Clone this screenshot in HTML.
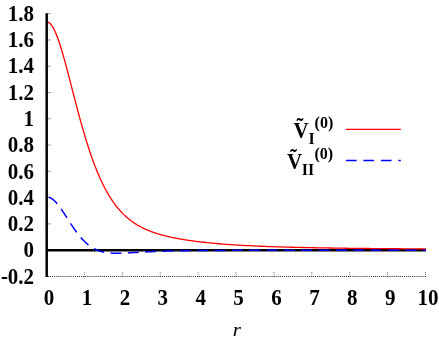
<!DOCTYPE html>
<html><head><meta charset="utf-8"><title>plot</title>
<style>
html,body{margin:0;padding:0;background:#fff;}
body{width:439px;height:342px;overflow:hidden;}
svg{display:block;will-change:transform;}
text{font-family:"Liberation Serif",serif;}
.tl text{font-size:21px;font-weight:bold;fill:#000;}
</style></head><body>
<svg width="439" height="342" viewBox="0 0 439 342">
<rect width="439" height="342" fill="#fff"/>
<g stroke="#8a8a8a" stroke-width="0.9" fill="none"><line x1="46.7" x2="50.9" y1="250.20" y2="250.20"/><line x1="46.7" x2="50.9" y1="223.92" y2="223.92"/><line x1="46.7" x2="50.9" y1="197.64" y2="197.64"/><line x1="46.7" x2="50.9" y1="171.36" y2="171.36"/><line x1="46.7" x2="50.9" y1="145.08" y2="145.08"/><line x1="46.7" x2="50.9" y1="118.80" y2="118.80"/><line x1="46.7" x2="50.9" y1="92.52" y2="92.52"/><line x1="46.7" x2="50.9" y1="66.24" y2="66.24"/><line x1="46.7" x2="50.9" y1="39.96" y2="39.96"/><line x1="46.7" x2="50.9" y1="13.68" y2="13.68"/></g>
<g stroke="#6a6a6a" stroke-width="0.9" fill="none" stroke-dasharray="1 1"><line x1="84.40" x2="84.40" y1="277" y2="272"/><line x1="122.30" x2="122.30" y1="277" y2="272"/><line x1="160.20" x2="160.20" y1="277" y2="272"/><line x1="198.10" x2="198.10" y1="277" y2="272"/><line x1="236.00" x2="236.00" y1="277" y2="272"/><line x1="273.90" x2="273.90" y1="277" y2="272"/><line x1="311.80" x2="311.80" y1="277" y2="272"/><line x1="349.70" x2="349.70" y1="277" y2="272"/><line x1="387.60" x2="387.60" y1="277" y2="272"/><line x1="425.50" x2="425.50" y1="277" y2="272"/></g>
<line x1="48" x2="425.9" y1="276.5" y2="276.5" stroke="#000" stroke-width="0.9" stroke-dasharray="0.95 1.12"/>
<line x1="46.7" x2="425.9" y1="250.20" y2="250.20" stroke="#000" stroke-width="2.4"/>
<path d="M46.70,21.90 L47.21,21.94 L47.73,22.05 L48.24,22.24 L48.75,22.50 L49.26,22.84 L49.78,23.25 L50.29,23.73 L50.80,24.29 L51.31,24.92 L51.83,25.61 L52.34,26.38 L52.85,27.21 L53.37,28.10 L53.88,29.06 L54.39,30.08 L54.90,31.16 L55.42,32.30 L55.93,33.50 L56.44,34.75 L56.95,36.05 L57.47,37.41 L57.98,38.81 L58.49,40.26 L59.01,41.75 L59.52,43.29 L60.03,44.86 L60.54,46.48 L61.06,48.13 L61.57,49.81 L62.08,51.53 L62.59,53.27 L63.11,55.05 L63.62,56.85 L64.13,58.67 L64.64,60.52 L65.16,62.39 L65.67,64.28 L66.18,66.18 L66.70,68.10 L67.21,70.03 L67.72,71.98 L68.23,73.94 L68.75,75.90 L69.26,77.88 L69.77,79.85 L70.28,81.84 L70.80,83.83 L71.31,85.82 L71.82,87.81 L72.34,89.80 L72.85,91.79 L73.36,93.78 L73.87,95.76 L74.39,97.74 L74.90,99.71 L75.41,101.68 L75.92,103.64 L76.44,105.59 L76.95,107.53 L77.46,109.46 L77.98,111.38 L78.49,113.29 L79.00,115.19 L79.51,117.08 L80.03,118.95 L80.54,120.81 L81.05,122.65 L81.56,124.48 L82.08,126.29 L82.59,128.09 L83.10,129.87 L83.62,131.64 L84.13,133.38 L84.64,135.11 L85.15,136.83 L85.67,138.52 L86.18,140.20 L86.69,141.85 L87.20,143.49 L87.72,145.11 L88.23,146.71 L88.74,148.30 L89.25,149.86 L89.77,151.40 L90.28,152.92 L90.79,154.43 L91.31,155.91 L91.82,157.38 L92.33,158.82 L92.84,160.25 L93.36,161.65 L93.87,163.04 L94.38,164.40 L94.89,165.75 L95.41,167.07 L95.92,168.38 L96.43,169.67 L96.95,170.94 L97.46,172.18 L97.97,173.41 L98.48,174.62 L99.00,175.82 L99.51,176.99 L100.02,178.14 L100.53,179.28 L101.05,180.40 L101.56,181.50 L102.07,182.58 L102.59,183.64 L103.10,184.69 L103.61,185.71 L104.12,186.73 L104.64,187.72 L105.15,188.70 L105.66,189.66 L106.17,190.60 L106.69,191.53 L107.20,192.44 L107.71,193.34 L108.23,194.22 L108.74,195.08 L109.25,195.93 L109.76,196.77 L110.28,197.59 L110.79,198.39 L111.30,199.18 L111.81,199.96 L112.33,200.72 L112.84,201.47 L113.35,202.20 L113.86,202.93 L114.38,203.63 L114.89,204.33 L115.40,205.01 L115.92,205.68 L116.43,206.34 L116.94,206.99 L117.45,207.62 L117.97,208.24 L118.48,208.85 L118.99,209.45 L119.50,210.04 L120.02,210.62 L120.53,211.19 L121.04,211.74 L121.56,212.29 L122.07,212.83 L122.58,213.35 L123.09,213.87 L123.61,214.37 L124.12,214.87 L124.63,215.36 L125.14,215.84 L125.66,216.31 L126.17,216.77 L126.68,217.22 L127.20,217.67 L127.71,218.10 L128.22,218.53 L128.73,218.95 L129.25,219.36 L129.76,219.77 L130.27,220.17 L130.78,220.56 L131.30,220.94 L131.81,221.31 L132.32,221.68 L132.84,222.05 L133.35,222.40 L133.86,222.75 L134.37,223.09 L134.89,223.43 L135.40,223.76 L135.91,224.08 L136.42,224.40 L136.94,224.72 L137.45,225.02 L137.96,225.33 L138.47,225.62 L138.99,225.91 L139.50,226.20 L140.01,226.48 L140.53,226.76 L141.04,227.03 L141.55,227.29 L142.06,227.56 L142.58,227.81 L143.09,228.07 L143.60,228.32 L144.11,228.56 L144.63,228.80 L145.14,229.04 L145.65,229.27 L146.17,229.50 L146.68,229.72 L147.19,229.94 L147.70,230.16 L148.22,230.37 L148.73,230.58 L149.24,230.79 L149.75,230.99 L150.27,231.19 L150.78,231.39 L151.29,231.58 L151.81,231.77 L152.32,231.96 L152.83,232.15 L153.34,232.33 L153.86,232.51 L154.37,232.68 L154.88,232.86 L155.39,233.03 L155.91,233.20 L156.42,233.36 L156.93,233.52 L157.45,233.69 L157.96,233.84 L158.47,234.00 L158.98,234.15 L159.50,234.31 L160.01,234.45 L160.52,234.60 L161.03,234.75 L161.55,234.89 L162.06,235.03 L162.57,235.17 L163.08,235.31 L163.60,235.44 L164.11,235.58 L164.62,235.71 L165.14,235.84 L165.65,235.96 L166.16,236.09 L166.67,236.22 L167.19,236.34 L167.70,236.46 L168.21,236.58 L168.72,236.70 L169.24,236.81 L169.75,236.93 L170.26,237.04 L170.78,237.16 L171.29,237.27 L171.80,237.38 L172.31,237.48 L172.83,237.59 L173.34,237.70 L173.85,237.80 L174.36,237.90 L174.88,238.00 L175.39,238.11 L175.90,238.20 L176.42,238.30 L176.93,238.40 L177.44,238.50 L177.95,238.59 L178.47,238.68 L178.98,238.78 L179.49,238.87 L180.00,238.96 L180.52,239.05 L181.03,239.14 L181.54,239.22 L182.06,239.31 L182.57,239.40 L183.08,239.48 L183.59,239.56 L184.11,239.65 L184.62,239.73 L185.13,239.81 L185.64,239.89 L186.16,239.97 L186.67,240.05 L187.18,240.13 L187.69,240.20 L188.21,240.28 L188.72,240.36 L189.23,240.43 L189.75,240.50 L190.26,240.58 L190.77,240.65 L191.28,240.72 L191.80,240.79 L192.31,240.86 L192.82,240.93 L193.33,241.00 L193.85,241.07 L194.36,241.13 L194.87,241.20 L195.39,241.27 L195.90,241.33 L196.41,241.40 L196.92,241.46 L197.44,241.53 L197.95,241.59 L198.46,241.65 L198.97,241.71 L199.49,241.77 L200.00,241.83 L203.83,242.27 L207.66,242.67 L211.49,243.05 L215.32,243.41 L219.14,243.74 L222.97,244.04 L226.80,244.33 L230.63,244.60 L234.46,244.86 L238.29,245.10 L242.12,245.32 L245.95,245.53 L249.77,245.72 L253.60,245.91 L257.43,246.08 L261.26,246.24 L265.09,246.40 L268.92,246.54 L272.75,246.68 L276.58,246.80 L280.41,246.92 L284.23,247.04 L288.06,247.15 L291.89,247.25 L295.72,247.34 L299.55,247.44 L303.38,247.52 L307.21,247.60 L311.04,247.68 L314.86,247.76 L318.69,247.83 L322.52,247.89 L326.35,247.96 L330.18,248.02 L334.01,248.08 L337.84,248.13 L341.67,248.19 L345.49,248.24 L349.32,248.29 L353.15,248.33 L356.98,248.38 L360.81,248.42 L364.64,248.46 L368.47,248.50 L372.30,248.54 L376.13,248.58 L379.95,248.61 L383.78,248.65 L387.61,248.68 L391.44,248.71 L395.27,248.74 L399.10,248.77 L402.93,248.80 L406.76,248.83 L410.58,248.86 L414.41,248.88 L418.24,248.91 L422.07,248.93 L425.90,248.95" fill="none" stroke="#f00" stroke-width="1.3"/>
<path d="M46.70,196.94 L47.21,196.96 L47.73,197.01 L48.24,197.10 L48.75,197.22 L49.26,197.38 L49.78,197.57 L50.29,197.79 L50.80,198.05 L51.31,198.34 L51.83,198.66 L52.34,199.01 L52.85,199.40 L53.37,199.81 L53.88,200.25 L54.39,200.72 L54.90,201.21 L55.42,201.73 L55.93,202.28 L56.44,202.85 L56.95,203.44 L57.47,204.05 L57.98,204.68 L58.49,205.34 L59.01,206.00 L59.52,206.69 L60.03,207.39 L60.54,208.11 L61.06,208.84 L61.57,209.58 L62.08,210.33 L62.59,211.09 L63.11,211.86 L63.62,212.64 L64.13,213.42 L64.64,214.21 L65.16,215.01 L65.67,215.80 L66.18,216.61 L66.70,217.41 L67.21,218.21 L67.72,219.01 L68.23,219.82 L68.75,220.62 L69.26,221.42 L69.77,222.21 L70.28,223.00 L70.80,223.79 L71.31,224.57 L71.82,225.35 L72.34,226.12 L72.85,226.88 L73.36,227.64 L73.87,228.38 L74.39,229.12 L74.90,229.85 L75.41,230.57 L75.92,231.28 L76.44,231.98 L76.95,232.67 L77.46,233.35 L77.98,234.01 L78.49,234.67 L79.00,235.31 L79.51,235.95 L80.03,236.57 L80.54,237.17 L81.05,237.77 L81.56,238.35 L82.08,238.92 L82.59,239.48 L83.10,240.02 L83.62,240.55 L84.13,241.07 L84.64,241.58 L85.15,242.07 L85.67,242.55 L86.18,243.01 L86.69,243.47 L87.20,243.91 L87.72,244.33 L88.23,244.75 L88.74,245.15 L89.25,245.54 L89.77,245.92 L90.28,246.28 L90.79,246.63 L91.31,246.97 L91.82,247.30 L92.33,247.62 L92.84,247.92 L93.36,248.22 L93.87,248.50 L94.38,248.77 L94.89,249.04 L95.41,249.29 L95.92,249.53 L96.43,249.76 L96.95,249.98 L97.46,250.19 L97.97,250.39 L98.48,250.58 L99.00,250.77 L99.51,250.94 L100.02,251.11 L100.53,251.27 L101.05,251.42 L101.56,251.56 L102.07,251.69 L102.59,251.82 L103.10,251.94 L103.61,252.06 L104.12,252.16 L104.64,252.26 L105.15,252.36 L105.66,252.44 L106.17,252.53 L106.69,252.60 L107.20,252.67 L107.71,252.74 L108.23,252.80 L108.74,252.86 L109.25,252.91 L109.76,252.96 L110.28,253.00 L110.79,253.04 L111.30,253.07 L111.81,253.10 L112.33,253.13 L112.84,253.15 L113.35,253.17 L113.86,253.19 L114.38,253.21 L114.89,253.22 L115.40,253.23 L115.92,253.23 L116.43,253.24 L116.94,253.24 L117.45,253.24 L117.97,253.24 L118.48,253.23 L118.99,253.23 L119.50,253.22 L120.02,253.21 L120.53,253.20 L121.04,253.18 L121.56,253.17 L122.07,253.15 L122.58,253.14 L123.09,253.12 L123.61,253.10 L124.12,253.08 L124.63,253.06 L125.14,253.04 L125.66,253.02 L126.17,252.99 L126.68,252.97 L127.20,252.94 L127.71,252.92 L128.22,252.89 L128.73,252.87 L129.25,252.84 L129.76,252.81 L130.27,252.79 L130.78,252.76 L131.30,252.73 L131.81,252.70 L132.32,252.67 L132.84,252.65 L133.35,252.62 L133.86,252.59 L134.37,252.56 L134.89,252.53 L135.40,252.50 L135.91,252.47 L136.42,252.44 L136.94,252.41 L137.45,252.39 L137.96,252.36 L138.47,252.33 L138.99,252.30 L139.50,252.27 L140.01,252.24 L140.53,252.21 L141.04,252.19 L141.55,252.16 L142.06,252.13 L142.58,252.10 L143.09,252.07 L143.60,252.05 L144.11,252.02 L144.63,251.99 L145.14,251.97 L145.65,251.94 L146.17,251.91 L146.68,251.89 L147.19,251.86 L147.70,251.84 L148.22,251.81 L148.73,251.79 L149.24,251.76 L149.75,251.74 L150.27,251.71 L150.78,251.69 L151.29,251.67 L151.81,251.64 L152.32,251.62 L152.83,251.60 L153.34,251.57 L153.86,251.55 L154.37,251.53 L154.88,251.51 L155.39,251.49 L155.91,251.47 L156.42,251.45 L156.93,251.42 L157.45,251.40 L157.96,251.38 L158.47,251.36 L158.98,251.34 L159.50,251.33 L160.01,251.31 L160.52,251.29 L161.03,251.27 L161.55,251.25 L162.06,251.23 L162.57,251.22 L163.08,251.20 L163.60,251.18 L164.11,251.16 L164.62,251.15 L165.14,251.13 L165.65,251.11 L166.16,251.10 L166.67,251.08 L167.19,251.07 L167.70,251.05 L168.21,251.04 L168.72,251.02 L169.24,251.01 L169.75,250.99 L170.26,250.98 L170.78,250.97 L171.29,250.95 L171.80,250.94 L172.31,250.93 L172.83,250.91 L173.34,250.90 L173.85,250.89 L174.36,250.88 L174.88,250.87 L175.39,250.85 L175.90,250.84 L176.42,250.83 L176.93,250.82 L177.44,250.81 L177.95,250.80 L178.47,250.79 L178.98,250.78 L179.49,250.77 L180.00,250.76 L180.52,250.75 L181.03,250.74 L181.54,250.73 L182.06,250.72 L182.57,250.71 L183.08,250.70 L183.59,250.69 L184.11,250.69 L184.62,250.68 L185.13,250.67 L185.64,250.66 L186.16,250.65 L186.67,250.65 L187.18,250.64 L187.69,250.63 L188.21,250.62 L188.72,250.62 L189.23,250.61 L189.75,250.60 L190.26,250.60 L190.77,250.59 L191.28,250.58 L191.80,250.58 L192.31,250.57 L192.82,250.57 L193.33,250.56 L193.85,250.55 L194.36,250.55 L194.87,250.54 L195.39,250.54 L195.90,250.53 L196.41,250.53 L196.92,250.52 L197.44,250.52 L197.95,250.51 L198.46,250.51 L198.97,250.50 L199.49,250.50 L200.00,250.50 L203.83,250.47 L207.66,250.44 L211.49,250.42 L215.32,250.41 L219.14,250.39 L222.97,250.38 L226.80,250.38 L230.63,250.37 L234.46,250.36 L238.29,250.36 L242.12,250.36 L245.95,250.35 L249.77,250.35 L253.60,250.35 L257.43,250.35 L261.26,250.35 L265.09,250.35 L268.92,250.35 L272.75,250.35 L276.58,250.35 L280.41,250.35 L284.23,250.35 L288.06,250.35 L291.89,250.35 L295.72,250.35 L299.55,250.35 L303.38,250.35 L307.21,250.35 L311.04,250.35 L314.86,250.35 L318.69,250.35 L322.52,250.35 L326.35,250.35 L330.18,250.35 L334.01,250.35 L337.84,250.35 L341.67,250.35 L345.49,250.35 L349.32,250.35 L353.15,250.35 L356.98,250.35 L360.81,250.35 L364.64,250.35 L368.47,250.36 L372.30,250.36 L376.13,250.36 L379.95,250.36 L383.78,250.36 L387.61,250.36 L391.44,250.36 L395.27,250.36 L399.10,250.36 L402.93,250.36 L406.76,250.36 L410.58,250.36 L414.41,250.36 L418.24,250.36 L422.07,250.36 L425.90,250.36" fill="none" stroke="#00f" stroke-width="1.5" stroke-dasharray="10.85 6.5" stroke-dashoffset="-2"/>
<line x1="46.7" x2="46.7" y1="13.2" y2="277" stroke="#000" stroke-width="2.5"/>
<g class="tl"><text transform="translate(34.1,20.88) scale(1,1.05)" text-anchor="end">1.8</text><text transform="translate(34.1,47.16) scale(1,1.05)" text-anchor="end">1.6</text><text transform="translate(34.1,73.44) scale(1,1.05)" text-anchor="end">1.4</text><text transform="translate(34.1,99.72) scale(1,1.05)" text-anchor="end">1.2</text><text transform="translate(34.1,126.00) scale(1,1.05)" text-anchor="end">1</text><text transform="translate(34.1,152.28) scale(1,1.05)" text-anchor="end">0.8</text><text transform="translate(34.1,178.56) scale(1,1.05)" text-anchor="end">0.6</text><text transform="translate(34.1,204.84) scale(1,1.05)" text-anchor="end">0.4</text><text transform="translate(34.1,231.12) scale(1,1.05)" text-anchor="end">0.2</text><text transform="translate(34.1,257.40) scale(1,1.05)" text-anchor="end">0</text><text transform="translate(34.1,283.68) scale(1,1.05)" text-anchor="end">-0.2</text><text transform="translate(49.10,304.5) scale(1,1.05)" text-anchor="middle">0</text><text transform="translate(87.00,304.5) scale(1,1.05)" text-anchor="middle">1</text><text transform="translate(124.90,304.5) scale(1,1.05)" text-anchor="middle">2</text><text transform="translate(162.80,304.5) scale(1,1.05)" text-anchor="middle">3</text><text transform="translate(200.70,304.5) scale(1,1.05)" text-anchor="middle">4</text><text transform="translate(238.60,304.5) scale(1,1.05)" text-anchor="middle">5</text><text transform="translate(276.50,304.5) scale(1,1.05)" text-anchor="middle">6</text><text transform="translate(314.40,304.5) scale(1,1.05)" text-anchor="middle">7</text><text transform="translate(352.30,304.5) scale(1,1.05)" text-anchor="middle">8</text><text transform="translate(390.20,304.5) scale(1,1.05)" text-anchor="middle">9</text><text transform="translate(428.10,304.5) scale(1,1.05)" text-anchor="middle">10</text></g>
<text transform="translate(236.8,335.8) scale(1.14,1)" font-size="18.5" font-style="italic" text-anchor="middle">r</text>
<!-- legend -->
<line x1="345.9" x2="400.8" y1="129.4" y2="129.4" stroke="#f00" stroke-width="1.3"/>
<line x1="345.9" x2="400.8" y1="160.6" y2="160.6" stroke="#00f" stroke-width="1.5" stroke-dasharray="10.7 6.8"/>
<g font-weight="bold" fill="#000">
<text transform="translate(293.4,137.8) scale(1,1.05)" font-size="21">V</text>
<text transform="translate(300.1,134.2) scale(1,1.05)" font-size="21" text-anchor="middle">˜</text>
<text transform="translate(308.4,143.6) scale(1,1.05)" font-size="16">I</text>
<text transform="translate(314.6,127.7) scale(1,1.05)" font-size="16">(0)</text>
<text transform="translate(286.9,168.8) scale(1,1.05)" font-size="21">V</text>
<text transform="translate(293.6,165.3) scale(1,1.05)" font-size="21" text-anchor="middle">˜</text>
<text transform="translate(301.8,175.2) scale(1,1.05)" font-size="16">II</text>
<text transform="translate(314.4,158.9) scale(1,1.05)" font-size="16">(0)</text>
</g>
</svg>
</body></html>
